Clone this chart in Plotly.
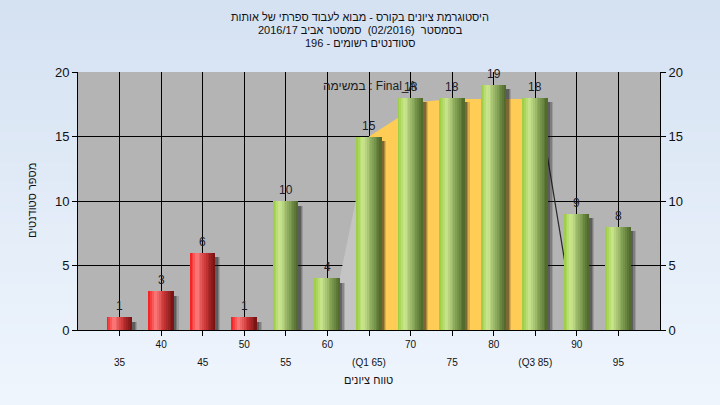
import plotly.graph_objects as go

# ---------------- data ----------------
categories = [35, 40, 45, 50, 55, 60, 65, 70, 75, 80, 85, 90, 95]
counts = [1, 3, 6, 1, 10, 4, 15, 18, 18, 19, 18, 9, 8]
pass_threshold = 55

upper_tick_vals = [40, 50, 60, 70, 80, 90]
upper_tick_text = ["40", "50", "60", "70", "80", "90"]
lower_tick_vals = [35, 45, 55, 65, 75, 85, 95]
lower_tick_text = ["35", "45", "55", "(Q1 65)", "75", "(Q3 85)", "95"]
y_tick_vals = [0, 5, 10, 15, 20]

# quartile band (Q1..Q3) drawn behind the bars
band_x = [65, 71.5, 75, 85, 85, 65]
band_y = [15, 17.7, 17.9, 17.9, 0, 0]
wedge_x = [60.2, 65, 65]
wedge_y = [0, 15, 0]
edge_x = [85.3, 89.9]
edge_y = [18, 0]

title_lines = [
    "היסטוגרמת ציונים בקורס - מבוא לעבוד ספרתי של אותות",
    "בסמסטר  (02/2016)  סמסטר אביב 2016/17",
    "סטודנטים רשומים - 196",
]
x_title = "טווח ציונים"
y_title = "מספר סטודנטים"
note_text = "במשימה : Final_A"

FONT = "Liberation Sans, Arial, DejaVu Sans, sans-serif"

red_stops = [(0, (240, 25, 25)), (0.28, (255, 125, 125)), (0.62, (205, 55, 55)), (1, (115, 18, 18))]
green_stops = [(0, (152, 202, 62)), (0.28, (205, 232, 145)), (0.62, (140, 170, 92)), (1, (76, 102, 40))]


def grad(stops, t):
    for (t0, c0), (t1, c1) in zip(stops[:-1], stops[1:]):
        if t0 <= t <= t1:
            f = (t - t0) / (t1 - t0)
            c = [round(a + (b - a) * f) for a, b in zip(c0, c1)]
            return "rgb(%d,%d,%d)" % tuple(c)
    c = stops[-1][1]
    return "rgb(%d,%d,%d)" % c


def path_from(xs, ys, close=True):
    p = "M " + " L ".join("%g,%g" % (x, y) for x, y in zip(xs, ys))
    return p + (" Z" if close else "")


fig = go.Figure()

BAR_W = 3.0
# soft shadows
for k, (dx, op) in enumerate([(0.6, 0.16), (0.45, 0.22), (0.3, 0.32)]):
    fig.add_trace(go.Bar(x=categories, y=[max(v - 0.35, 0) for v in counts],
                         width=BAR_W, offset=-BAR_W / 2 + dx,
                         marker=dict(color="rgba(25,25,25,%.2f)" % op, line=dict(width=0)),
                         hoverinfo="skip", showlegend=False))

# cylinder-like bars made of thin strips
N = 14
sw = BAR_W / N
for i in range(N):
    t = (i + 0.5) / N
    cols = [grad(green_stops if c >= pass_threshold else red_stops, t) for c in categories]
    fig.add_trace(go.Bar(x=categories, y=counts, width=sw * 1.05, offset=-BAR_W / 2 + i * sw,
                         marker=dict(color=cols, line=dict(width=0)),
                         hoverinfo="skip", showlegend=False))

# value labels
for c, v in zip(categories, counts):
    fig.add_annotation(x=c, y=v, xref="x", yref="y", text=str(v), showarrow=False,
                       yanchor="bottom", yshift=2, font=dict(size=12, color="#1c1c28", family=FONT))

# dummy traces for secondary axes
fig.add_trace(go.Scatter(x=[30], y=[0], xaxis="x2", yaxis="y2", mode="none",
                         showlegend=False, hoverinfo="skip"))

# background gradient
top = (213, 226, 242)
bot = (239, 245, 253)
ML, MR, MT, MB = 78, 60, 72, 75
PW, PH = 720 - ML - MR, 405 - MT - MB
nstrip = 40
y_lo = -MB / PH
y_hi = 1 + MT / PH
for i in range(nstrip):
    f = i / (nstrip - 1)
    c = tuple(round(b + (a - b) * f) for a, b in zip(top, bot))
    y0 = y_lo + (y_hi - y_lo) * i / nstrip
    y1 = y_lo + (y_hi - y_lo) * (i + 1) / nstrip + 0.01
    fig.add_shape(type="rect", xref="paper", yref="paper", x0=-ML / PW - 0.05, x1=1 + MR / PW + 0.05,
                  y0=y0, y1=y1, fillcolor="rgb(%d,%d,%d)" % c, line=dict(width=0), layer="below")
fig.add_shape(type="rect", xref="paper", yref="paper", x0=0, x1=1, y0=0, y1=1,
              fillcolor="rgb(180,180,180)", line=dict(width=0), layer="below")

# band / wedge / edge (between gridlines and bars)
fig.add_shape(type="path", xref="x", yref="y", path=path_from(wedge_x, wedge_y),
              fillcolor="rgb(196,196,196)", line=dict(width=0), layer="between")
fig.add_shape(type="path", xref="x", yref="y", path=path_from(band_x, band_y),
              fillcolor="rgb(255,204,85)", line=dict(width=0), layer="between")
fig.add_shape(type="path", xref="x", yref="y", path=path_from(edge_x, edge_y, close=False),
              line=dict(color="rgb(40,40,40)", width=1.2), layer="between")


def px_x(px):
    return (px - ML) / PW


def px_y(py):
    return (405 - MB - py) / PH


tfont = dict(size=11, color="#111", family=FONT)
# titles
for line, ypx in zip(title_lines, [17, 30, 43]):
    fig.add_annotation(xref="paper", yref="paper", x=px_x(360), y=px_y(ypx), text=line,
                       showarrow=False, xanchor="center", yanchor="middle", font=tfont)

fig.add_annotation(xref="paper", yref="paper", x=px_x(368), y=px_y(380), text=x_title,
                   showarrow=False, xanchor="center", yanchor="middle", font=tfont)
fig.add_annotation(xref="paper", yref="paper", x=px_x(32), y=px_y(201), text=y_title,
                   showarrow=False, xanchor="center", yanchor="middle", textangle=-90, font=tfont)
fig.add_annotation(xref="paper", yref="paper", x=px_x(370), y=px_y(86), text=note_text,
                   showarrow=False, xanchor="center", yanchor="middle",
                   font=dict(size=12, color="#1c1c1c", family=FONT))

axis_common = dict(showline=True, linecolor="black", linewidth=1, ticks="outside", ticklen=5,
                   tickcolor="black", zeroline=False)

fig.update_layout(
    width=720, height=405,
    margin=dict(l=ML, r=MR, t=MT, b=MB),
    paper_bgcolor="rgb(239,245,253)",
    plot_bgcolor="rgba(0,0,0,0)",
    barmode="overlay",
    bargap=0,
    showlegend=False,
    xaxis=dict(range=[30, 100], tickvals=upper_tick_vals + lower_tick_vals,
               ticktext=upper_tick_text + [""] * len(lower_tick_vals),
               showgrid=True, gridcolor="black", gridwidth=1, mirror=False,
               tickfont=dict(size=10, color="#111", family=FONT), **axis_common),
    xaxis2=dict(range=[30, 100], overlaying="x", side="bottom", tickvals=lower_tick_vals,
                ticktext=lower_tick_text, showgrid=False, showline=False, ticks="",
                ticklabelstandoff=25, tickfont=dict(size=10, color="#111", family=FONT),
                zeroline=False),
    yaxis=dict(range=[0, 20], tickvals=y_tick_vals, showgrid=True, gridcolor="black", gridwidth=1,
               tickfont=dict(size=13, color="#111", family=FONT), **axis_common),
    yaxis2=dict(range=[0, 20], tickvals=y_tick_vals, overlaying="y", side="right", showgrid=False,
                tickfont=dict(size=13, color="#111", family=FONT), **axis_common),
)

fig.write_html("out.html", config={"displayModeBar": False},
               post_script="document.body.style.margin='0px';")
